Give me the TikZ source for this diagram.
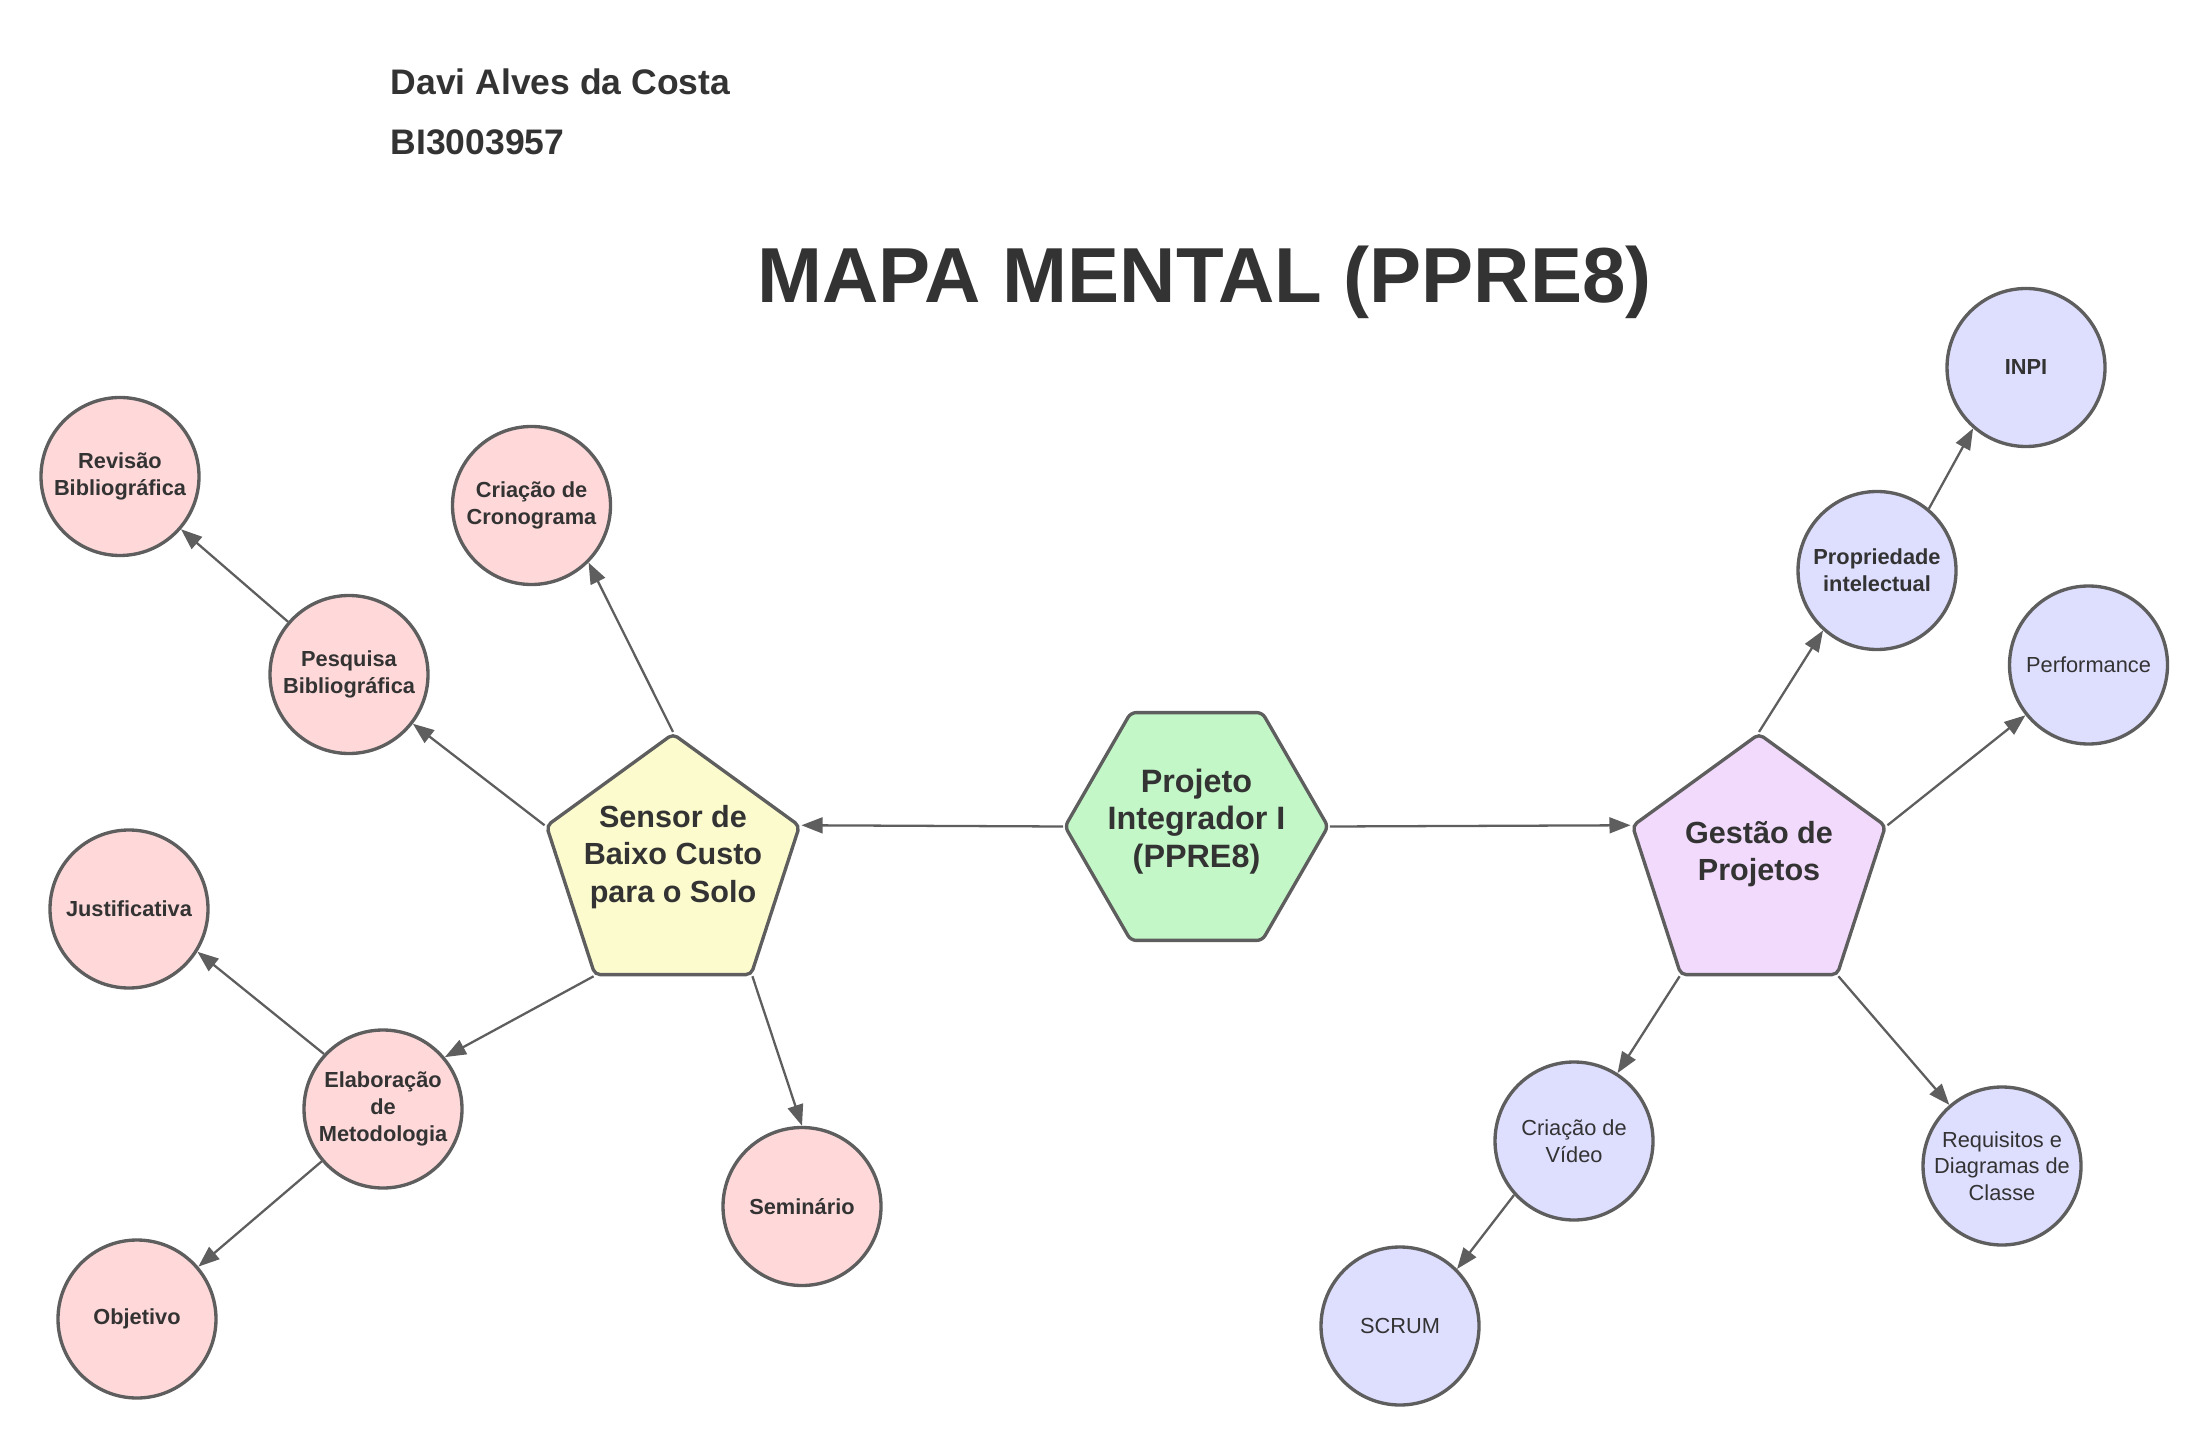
\documentclass[tikz,border=0pt]{standalone}
\usepackage{fontspec}
\setmainfont{Liberation Sans}
\usepackage{tikz}
\usetikzlibrary{arrows.meta, shapes.geometric}
\definecolor{Charcoal}{HTML}{333333}
\definecolor{EdgeGray}{HTML}{5E5E5E}
\definecolor{SoftPink}{HTML}{FFD9DA}
\definecolor{SoftLavender}{HTML}{DEDEFF}
\definecolor{SoftYellow}{HTML}{FCFBCD}
\definecolor{SoftLilac}{HTML}{F2DAFC}
\definecolor{SoftGreen}{HTML}{C3F7C8}

\begin{document}
\begin{tikzpicture}[
    bubble/.style={circle, draw=EdgeGray, line width=0.95pt, minimum size=1.58cm, inner sep=0pt, align=center, text=Charcoal, font=\fontsize{6.2}{7.6}\selectfont},
    strong/.style={font=\fontsize{6.2}{7.6}\selectfont\bfseries},
    redbubble/.style={bubble, fill=SoftPink, strong},
    bluebubble/.style={bubble, fill=SoftLavender},
    penta/.style={regular polygon, regular polygon sides=5, minimum size=2.66cm, draw=EdgeGray, line width=0.95pt, rounded corners=1.5pt, inner sep=0pt},
    hexa/.style={regular polygon, regular polygon sides=6, minimum size=2.63cm, draw=EdgeGray, line width=0.95pt, rounded corners=1.5pt, inner sep=0pt},
    bigtext/.style={align=center, text=Charcoal, font=\fontsize{8.7}{10.6}\selectfont\bfseries},
    header/.style={anchor=base west, inner sep=0pt, text=Charcoal, font=\fontsize{10.1}{12}\selectfont\bfseries},
    link/.style={draw=EdgeGray, line width=0.65pt, -{Triangle[length=6pt, width=4.5pt]}}
]
\useasboundingbox (0,0) rectangle (22.09,-14.47);

\node[header] (autor) at (3.90,-0.95) {Davi Alves da Costa};
\node[header] (matricula) at (3.90,-1.55) {BI3003957};
\node[anchor=base, inner sep=0pt, text=Charcoal, font=\fontsize{22.2}{26}\selectfont\bfseries] (titulo) at (12.045,-3.03) {MAPA MENTAL (PPRE8)};

\node[hexa, fill=SoftGreen, label={[bigtext, font=\fontsize{9.2}{10.7}\selectfont\bfseries, yshift=0.05cm]center:{Projeto\\Integrador I\\(PPRE8)}}] (projeto) at (11.965,-8.265) {};
\node[penta, fill=SoftYellow, label={[bigtext, yshift=0.1cm]center:{Sensor de\\Baixo Custo\\para o Solo}}] (sensor) at (6.73,-8.67) {};
\node[penta, fill=SoftLilac, label={[bigtext, yshift=0.13cm]center:{Gestão de\\Projetos}}] (gestao) at (17.59,-8.67) {};

\node[redbubble] (revisao) at (1.20,-4.765) {Revisão\\Bibliográfica};
\node[redbubble] (cronograma) at (5.315,-5.055) {Criação de\\Cronograma};
\node[redbubble] (pesquisa) at (3.49,-6.745) {Pesquisa\\Bibliográfica};
\node[redbubble] (justificativa) at (1.29,-9.09) {Justificativa};
\node[redbubble] (metodologia) at (3.83,-11.09) {Elaboração\\de\\Metodologia};
\node[redbubble] (objetivo) at (1.37,-13.19) {Objetivo};
\node[redbubble] (seminario) at (8.02,-12.065) {Seminário};

\node[bluebubble, strong] (inpi) at (20.26,-3.675) {INPI};
\node[bluebubble, strong] (propriedade) at (18.77,-5.705) {Propriedade\\intelectual};
\node[bluebubble] (performance) at (20.885,-6.65) {Performance};
\node[bluebubble] (video) at (15.74,-11.41) {Criação de\\Vídeo};
\node[bluebubble] (scrum) at (14.00,-13.26) {SCRUM};
\node[bluebubble] (requisitos) at (20.02,-11.66) {Requisitos e\\Diagramas de\\Classe};

\draw[link] (projeto.west) -- (sensor.corner 5);
\draw[link] (projeto.east) -- (gestao.corner 2);
\draw[link] (sensor.corner 1) -- (cronograma.-45);
\draw[link] (sensor.corner 2) -- (pesquisa);
\draw[link] (sensor.corner 3) -- (metodologia.40);
\draw[link] (sensor.corner 4) -- (seminario.north);
\draw[link] (pesquisa) -- (revisao);
\draw[link] (metodologia.137) -- (justificativa.-32);
\draw[link] (metodologia) -- (objetivo);
\draw[link] (gestao.corner 1) -- (propriedade.228);
\draw[link] (propriedade.50) -- (inpi.229);
\draw[link] (gestao.corner 5) -- (performance);
\draw[link] (gestao.corner 3) -- (video);
\draw[link] (video.222) -- (scrum.45);
\draw[link] (gestao.corner 4) -- (requisitos);
\end{tikzpicture}
\end{document}
